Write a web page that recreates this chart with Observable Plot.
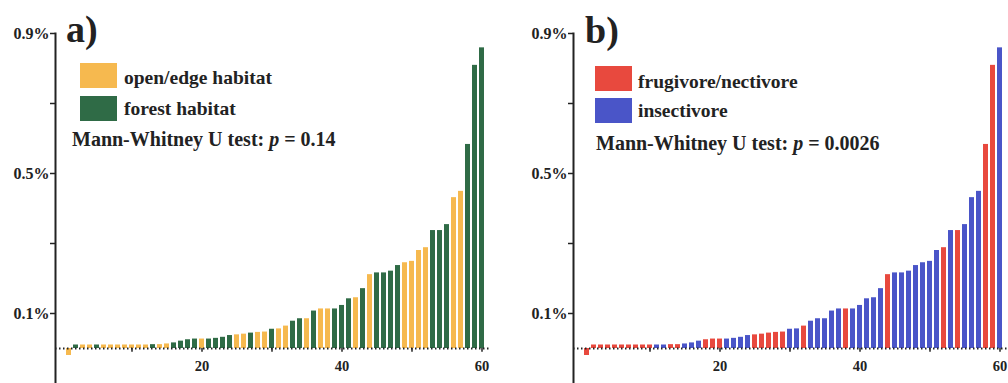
<!DOCTYPE html>
<html>
<head>
<meta charset="utf-8">
<script src="https://cdn.jsdelivr.net/npm/d3@7"></script>
<script src="https://cdn.jsdelivr.net/npm/@observablehq/plot@0.6"></script>
<style>
  html, body { margin: 0; padding: 0; background: #fff; }
  #wrap { position: relative; width: 1008px; height: 383px; overflow: hidden; display: flex; }
  #wrap svg { flex: none; display: block; }
</style>
</head>
<body>
<div id="wrap"></div>
<script>
// ---- data ----
const ranks = d3.range(1, 61);
const shares = [
  -0.02, 0.010, 0.010, 0.010, 0.010, 0.010, 0.010, 0.010, 0.010, 0.010,
  0.010, 0.010, 0.011, 0.011, 0.013, 0.016, 0.021, 0.025, 0.027, 0.027,
  0.027, 0.029, 0.032, 0.037, 0.039, 0.041, 0.044, 0.046, 0.047, 0.055,
  0.056, 0.064, 0.078, 0.085, 0.085, 0.107, 0.113, 0.113, 0.113, 0.123,
  0.142, 0.145, 0.171, 0.211, 0.216, 0.216, 0.221, 0.237, 0.245, 0.249,
  0.280, 0.288, 0.337, 0.337, 0.354, 0.431, 0.449, 0.583, 0.809, 0.859
];
// O = open/edge, F = forest
const habitat = [
  "O","F","O","O","F","O","O","O","O","O",
  "O","O","F","O","O","F","F","F","F","O",
  "F","F","F","F","O","O","F","O","O","F",
  "O","O","F","F","O","F","O","O","F","F",
  "F","O","F","O","F","F","F","F","O","O",
  "O","O","F","F","F","O","O","F","F","F"
];
// R = frugivore/nectivore, B = insectivore
const diet = [
  "R","R","R","R","R","R","R","R","R","R",
  "B","B","R","R","B","B","B","R","R","R",
  "B","B","B","B","R","R","R","R","R","B",
  "B","R","B","B","B","B","B","R","B","B",
  "B","B","B","R","B","B","B","B","B","B",
  "B","R","B","R","B","B","B","R","R","B"
];
const habitatCodes = ["O", "F"];
const habitatLabels = ["open/edge habitat", "forest habitat"];
const habitatColors = ["#f6b94f", "#2f6b46"];
const dietCodes = ["R", "B"];
const dietLabels = ["frugivore/nectivore", "insectivore"];
const dietColors = ["#e8493e", "#4a55c8"];
const yTicksLabeled = [0.1, 0.5, 0.9];
const yTicksMinor = [0.3, 0.7];
const xTicksLabeled = [20, 40, 60];
const xTickMarks = [10, 20, 30, 40, 50, 60];
const panelTitles = ["a)", "b)"];
const pValues = ["0.14", "0.0026"];

const FONT = "'Liberation Serif', 'Times New Roman', serif";
const INK = "#222";

function panel(cfg) {
  const data = ranks.map((r, i) => ({rank: r, value: shares[i], group: cfg.labels[cfg.codes.indexOf(cfg.cats[i])]}));
  const svg = Plot.plot({
    width: cfg.width,
    height: 383,
    marginTop: 33,
    marginBottom: 0,
    marginLeft: cfg.marginLeft,
    marginRight: cfg.marginRight,
    style: {fontFamily: FONT, fontWeight: "bold", background: "white", color: INK, overflow: "visible"},
    x: {type: "band", domain: ranks, padding: 0.3, insetLeft: 3, axis: null},
    y: {domain: [-0.1, 0.9], axis: null},
    color: {domain: cfg.labels, range: cfg.colors},
    marks: [
      Plot.barY(data, {x: "rank", y: "value", fill: "group"}),
      Plot.ruleY([0], {stroke: "#222", strokeDasharray: "1.5,2.5", strokeWidth: 1.8}),
      Plot.ruleX(xTickMarks, {x: d => d, y1: 0, y2: -0.011, stroke: INK, strokeWidth: 1.5}),
      Plot.text(xTicksLabeled, {x: d => d, y: () => 0, dy: 18, text: d => String(d), fontSize: 14.5, fill: INK}),
      Plot.axisY(yTicksLabeled, {label: null, tickSize: 5, tickPadding: 1, tickFormat: d => d + "%", fontSize: 16, strokeWidth: 1.5, fill: INK}),
      Plot.axisY(yTicksMinor, {label: null, tickSize: 5, tickFormat: () => "", strokeWidth: 1.5}),
      Plot.frame({anchor: "left", stroke: INK, strokeWidth: 2})
    ]
  });
  const s = d3.select(svg);
  const L = cfg.legend;
  s.append("text").attr("x", L.titleX).attr("y", L.titleY).attr("text-anchor", "start")
    .attr("font-family", FONT).attr("font-weight", "bold").attr("font-size", 38).attr("fill", INK)
    .text(cfg.title);
  cfg.labels.forEach((lab, i) => {
    s.append("rect").attr("x", L.swX).attr("y", L.swY[i]).attr("width", 37).attr("height", 25)
      .attr("fill", cfg.colors[i]);
    s.append("text").attr("x", L.labX).attr("y", L.labY[i]).attr("text-anchor", "start")
      .attr("font-family", FONT).attr("font-weight", "bold").attr("font-size", 19.5).attr("fill", INK)
      .text(lab);
  });
  const t = s.append("text").attr("x", L.testX).attr("y", L.testY).attr("text-anchor", "start")
    .attr("font-family", FONT).attr("font-weight", "bold").attr("font-size", 20).attr("fill", INK);
  t.append("tspan").text("Mann-Whitney U test: ");
  t.append("tspan").attr("font-style", "italic").text("p");
  t.append("tspan").text(" = " + cfg.p);
  return svg;
}

const wrap = document.getElementById("wrap");
wrap.appendChild(panel({
  cats: habitat, codes: habitatCodes, labels: habitatLabels, colors: habitatColors,
  title: panelTitles[0], p: pValues[0],
  width: 504, marginLeft: 55, marginRight: 13,
  legend: {titleX: 66, titleY: 42, swX: 80, swY: [63, 96], labX: 124, labY: [84, 115], testX: 72, testY: 146}
}));
wrap.appendChild(panel({
  cats: diet, codes: dietCodes, labels: dietLabels, colors: dietColors,
  title: panelTitles[1], p: pValues[1],
  width: 520, marginLeft: 69, marginRight: 14,
  legend: {titleX: 81, titleY: 43, swX: 91, swY: [66, 98], labX: 134, labY: [88, 117], testX: 92, testY: 150}
}));
</script>
</body>
</html>
